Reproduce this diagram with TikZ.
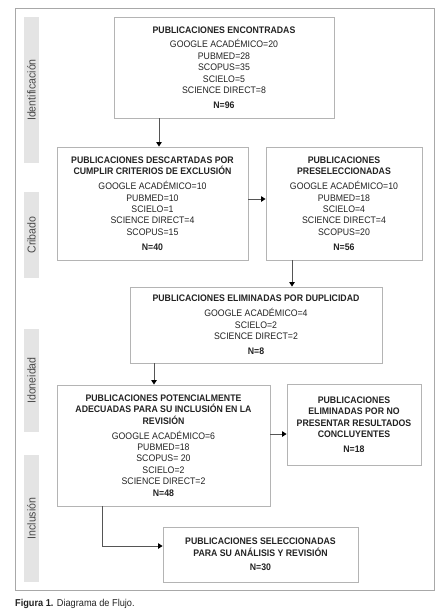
\documentclass[tikz,border=0pt]{standalone}
\usepackage{fontspec}
\setmainfont{Liberation Sans}[FakeStretch=0.92]
\usetikzlibrary{arrows.meta}
\definecolor{framegray}{HTML}{A8A8A8}
\definecolor{boxgray}{HTML}{B4B4B4}
\definecolor{bargray}{HTML}{E4E4E4}
\definecolor{bartext}{HTML}{4A4A4A}
\definecolor{txt}{HTML}{222222}
\definecolor{linegray}{HTML}{555555}
\tikzset{
  x=1pt, y=-1pt,
  box/.style={draw=boxgray, line width=0.9pt, inner sep=0pt, align=center,
    text=txt, font=\fontsize{9.5}{11.4}\selectfont},
  sidebar/.style={fill=bargray, rotate=90, inner sep=0pt, minimum height=15pt,
    text=bartext, font=\fontsize{11.5}{13}\selectfont},
  arr/.style={draw=linegray, line width=0.9pt, -{Triangle[width=5.5pt,length=4.5pt,fill=black,color=black]}},
}
\begin{document}
\begin{tikzpicture}
\useasboundingbox (0,0) rectangle (447,610);
\node[draw=framegray, line width=1pt, minimum width=419pt, minimum height=581pt, inner sep=0pt] (frame) at (224.5,299.5) {};

\node[sidebar, minimum width=146pt] (s1) at (31.5,90) {Identificación};
\node[sidebar, minimum width=86pt] (s2) at (31.5,235) {Cribado};
\node[sidebar, minimum width=103pt] (s3) at (31.5,380.5) {Idoneidad};
\node[sidebar, minimum width=127pt] (s4) at (31.5,518.5) {Inclusión};

\node[box, minimum width=220pt, minimum height=101pt] (b1) at (224,67.5) {%
\textbf{PUBLICACIONES ENCONTRADAS}\\[3.5pt]
GOOGLE ACADÉMICO=20\\ PUBMED=28\\ SCOPUS=35\\ SCIELO=5\\ SCIENCE DIRECT=8\\[3.5pt]
\textbf{N=96}};

\node[box, minimum width=191pt, minimum height=113pt] (b2) at (152.5,203.5) {%
\textbf{PUBLICACIONES DESCARTADAS POR}\\ \textbf{CUMPLIR CRITERIOS DE EXCLUSIÓN}\\[3.5pt]
GOOGLE ACADÉMICO=10\\ PUBMED=10\\ SCIELO=1\\ SCIENCE DIRECT=4\\ SCOPUS=15\\[3.5pt]
\textbf{N=40}};

\node[box, minimum width=156pt, minimum height=113pt] (b3) at (344,203.5) {%
\textbf{PUBLICACIONES}\\ \textbf{PRESELECCIONADAS}\\[3.5pt]
GOOGLE ACADÉMICO=10\\ PUBMED=18\\ SCIELO=4\\ SCIENCE DIRECT=4\\ SCOPUS=20\\[3.5pt]
\textbf{N=56}};

\node[box, minimum width=252pt, minimum height=76pt] (b4) at (256,325) {%
\textbf{PUBLICACIONES ELIMINADAS POR DUPLICIDAD}\\[3.5pt]
GOOGLE ACADÉMICO=4\\ SCIELO=2\\ SCIENCE DIRECT=2\\[3.5pt]
\textbf{N=8}};

\node[box, minimum width=213pt, minimum height=121pt] (b5) at (163.5,445.5) {%
\textbf{PUBLICACIONES POTENCIALMENTE}\\ \textbf{ADECUADAS PARA SU INCLUSIÓN EN LA}\\ \textbf{REVISIÓN}\\[3.5pt]
GOOGLE ACADÉMICO=6\\ PUBMED=18\\ SCOPUS= 20\\ SCIELO=2\\ SCIENCE DIRECT=2\\
\textbf{N=48}};

\node[box, minimum width=134pt, minimum height=81pt] (b6) at (354,424.5) {%
\textbf{PUBLICACIONES}\\ \textbf{ELIMINADAS POR NO}\\ \textbf{PRESENTAR RESULTADOS}\\ \textbf{CONCLUYENTES}\\[3.5pt]
\textbf{N=18}};

\node[box, minimum width=195pt, minimum height=55pt] (b7) at (260.5,554.5) {%
\textbf{PUBLICACIONES SELECCIONADAS}\\ \textbf{PARA SU ANÁLISIS Y REVISIÓN}\\[3.5pt]
\textbf{N=30}};

\draw[arr] ([xshift=-65pt]b1.south) -- ([xshift=-65pt]b1.south |- b2.north);
\draw[arr] ([yshift=4.5pt]b2.east) -- ([yshift=4.5pt]b3.west);
\draw[arr] ([xshift=-52pt]b3.south) -- ([xshift=-52pt]b3.south |- b4.north);
\draw[arr] ([xshift=-102pt]b4.south) -- ([xshift=-102pt]b4.south |- b5.north);
\draw[arr] ([yshift=11.5pt]b5.east) -- ([yshift=11.5pt]b5.east -| b6.west);
\draw[arr] ([xshift=-61.5pt]b5.south) |- ([yshift=8.5pt]b7.west);

\node[anchor=base west, inner sep=0pt, text=txt, font=\fontsize{10}{12}\selectfont] (cap) at (15,606) {\textbf{Figura 1.} Diagrama de Flujo.};
\end{tikzpicture}
\end{document}
